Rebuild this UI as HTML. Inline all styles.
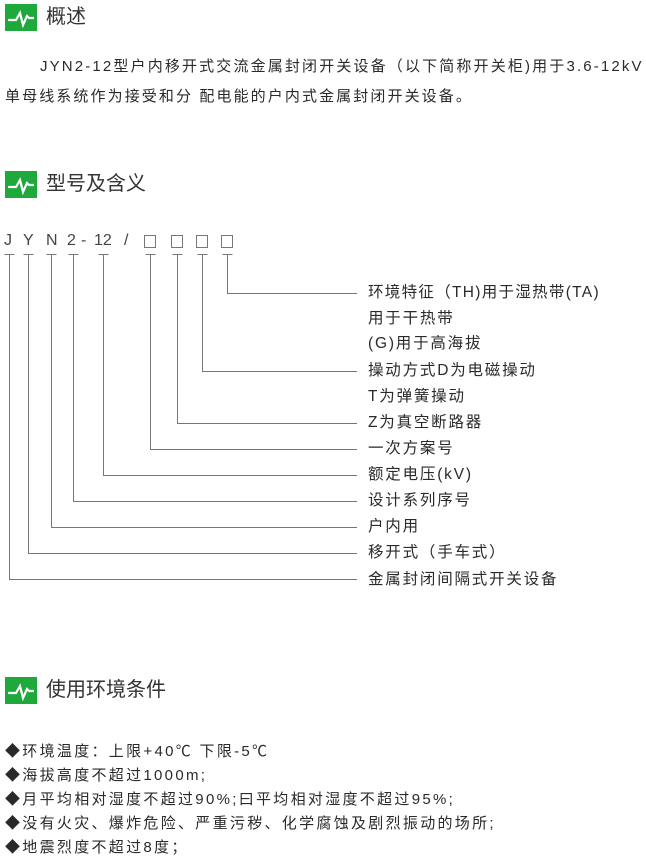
<!DOCTYPE html>
<html><head><meta charset="utf-8"><style>
*{margin:0;padding:0}
body{width:646px;height:866px;background:#fff;position:relative;overflow:hidden;font-family:"Liberation Sans","Noto Sans CJK SC",sans-serif;color:#2a2a2a}
.t{position:absolute;white-space:nowrap;line-height:1}
.h{font-size:20px;color:#333}
.p{font-size:15px}
.r{font-size:15.5px;letter-spacing:1.8px;left:368px}
.c{font-size:16px;position:absolute;top:233px;line-height:1;color:#444}
.b{font-size:15px;letter-spacing:2.3px;left:5px}
</style></head><body>
<svg width="646" height="866" style="position:absolute;left:0;top:0">
<defs><g id="ic"><rect x="0" y="0" width="32" height="27" fill="#1fa83c"/><polyline points="3,16 11,16 15,9 18,21 22,12 24,14 29,14" fill="none" stroke="#fff" stroke-width="2.2"/></g></defs>
<use href="#ic" x="5" y="4"/>
<use href="#ic" x="5" y="171"/>
<use href="#ic" x="5" y="677"/>
<g stroke="#777" stroke-width="1" fill="none">
<path d="M4.5 254.5H14.5 M23.5 254.5H33.5 M46.5 254.5H56.5 M68.5 254.5H78.5 M98.5 254.5H108.5 M145.5 254.5H155.5 M172.5 254.5H182.5 M197.5 254.5H207.5 M222.5 254.5H232.5"/>
<path d="M227.5 254V293.5H357"/>
<path d="M202.5 254V371.5H357"/>
<path d="M177.5 254V423.5H357"/>
<path d="M150.5 254V449.5H357"/>
<path d="M103.5 254V475.5H357"/>
<path d="M73.5 254V501.5H357"/>
<path d="M51.5 254V527.5H357"/>
<path d="M28.5 254V553.5H357"/>
<path d="M9.5 254V579.5H357"/>
<rect x="144.5" y="235.5" width="11" height="12"/>
<rect x="171.5" y="235.5" width="11" height="12"/>
<rect x="196.5" y="235.5" width="11" height="12"/>
<rect x="221.5" y="235.5" width="11" height="12"/>
</g>
</svg>
<div class="t h" style="left:46px;top:7px">概述</div>
<div class="t p" style="left:40px;top:59px;letter-spacing:2.15px">JYN2-12型户内移开式交流金属封闭开关设备（以下简称开关柜)用于3.6-12kV</div>
<div class="t p" style="left:5px;top:89px;letter-spacing:2.1px">单母线系统作为接受和分 配电能的户内式金属封闭开关设备。</div>
<div class="t h" style="left:46px;top:174px">型号及含义</div>
<span class="c" style="left:4px">J</span>
<span class="c" style="left:23px">Y</span>
<span class="c" style="left:46px">N</span>
<span class="c" style="left:67px">2</span>
<span class="c" style="left:81px">-</span>
<span class="c" style="left:94px">12</span>
<span class="c" style="left:124px">/</span>
<div class="t r" style="top:285px;letter-spacing:1.3px">环境特征（TH)用于湿热带(TA)</div>
<div class="t r" style="top:311px">用于干热带</div>
<div class="t r" style="top:336px">(G)用于高海拔</div>
<div class="t r" style="top:363px">操动方式D为电磁操动</div>
<div class="t r" style="top:389px">T为弹簧操动</div>
<div class="t r" style="top:415px">Z为真空断路器</div>
<div class="t r" style="top:441px">一次方案号</div>
<div class="t r" style="top:467px">额定电压(kV)</div>
<div class="t r" style="top:493px">设计系列序号</div>
<div class="t r" style="top:519px">户内用</div>
<div class="t r" style="top:545px">移开式（手车式）</div>
<div class="t r" style="top:572px">金属封闭间隔式开关设备</div>
<div class="t h" style="left:46px;top:680px">使用环境条件</div>
<div class="t b" style="top:744px">◆环境温度：上限+40℃ 下限-5℃</div>
<div class="t b" style="top:768px">◆海拔高度不超过1000m;</div>
<div class="t b" style="top:792px">◆月平均相对湿度不超过90%;曰平均相对湿度不超过95%;</div>
<div class="t b" style="top:816px">◆没有火灾、爆炸危险、严重污秽、化学腐蚀及剧烈振动的场所;</div>
<div class="t b" style="top:840px">◆地震烈度不超过8度；</div>
</body></html>
